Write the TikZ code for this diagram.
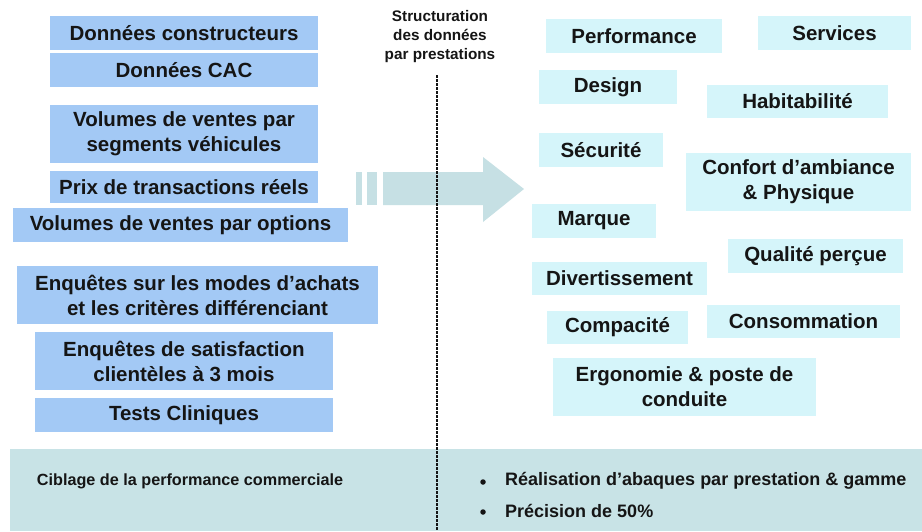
\documentclass[tikz,border=0pt]{standalone}
\usepackage{fontspec}
\setmainfont{Liberation Sans}
\definecolor{leftblue}{HTML}{A3C9F5}
\definecolor{rightcyan}{HTML}{D5F5FA}
\definecolor{arrowteal}{HTML}{C6E0E4}
\definecolor{bandteal}{HTML}{C8E3E6}
\definecolor{ink}{HTML}{151515}
\begin{document}
\begin{tikzpicture}[x=1pt,y=-1pt,
  boxbase/.style={inner sep=0pt, align=center, text=ink,
    font=\bfseries\fontsize{20.5}{25}\selectfont},
  lbox/.style={boxbase, fill=leftblue},
  rbox/.style={boxbase, fill=rightcyan},
  bigtext/.style={text=ink, font=\bfseries\fontsize{18}{22}\selectfont, anchor=west, inner sep=0pt},
  dot/.style={circle, fill=ink, inner sep=0pt, minimum size=5.5pt}
]
\useasboundingbox (0,0) rectangle (922,531);
\fill[white] (0,0) rectangle (922,531);
% bottom band
\fill[bandteal] (10,449) rectangle (922,531);
% left boxes
\node[lbox, minimum width=268, minimum height=34] (dc) at (184,33) {Données constructeurs};
\node[lbox, minimum width=268, minimum height=34] (cac) at (184,70) {Données CAC};
\node[lbox, minimum width=268, minimum height=58] (vs) at (184,134) {Volumes de ventes par\\segments véhicules};
\node[lbox, minimum width=268, minimum height=32] (prix) at (184,187) {Prix de transactions réels};
\node[lbox, minimum width=335, minimum height=34] (vo) at (180.5,225) {Volumes de ventes par options};
\node[lbox, minimum width=361, minimum height=58] (enq) at (197.5,295) {Enquêtes sur les modes d’achats\\et les critères différenciant};
\node[lbox, minimum width=298, minimum height=58] (sat) at (184,361) {Enquêtes de satisfaction\\clientèles à 3 mois};
\node[lbox, minimum width=298, minimum height=34] (tests) at (184,415) {Tests Cliniques};
% arrow
\fill[arrowteal] (356,172) rectangle (362,205);
\fill[arrowteal] (367,172) rectangle (377,205);
\fill[arrowteal] (383,172) -- (483,172) -- (483,157) -- (524,189) -- (483,222) -- (483,205) -- (383,205) -- cycle;
% dashed separator
\coordinate (dtop) at (437,75);
\coordinate (dbot) at (437,531);
\draw[ink, line width=1.1pt, dash pattern=on 2.5pt off 1.5pt] (dtop) -- (dbot);
\node[text=ink, align=center, font=\bfseries\fontsize{15.3}{19}\selectfont, inner sep=0pt] (struct) at (440,37) {Structuration\\des données\\par prestations};
% right boxes
\node[rbox, minimum width=176, minimum height=34] (perf) at (634,36) {Performance};
\node[rbox, minimum width=153, minimum height=34] (serv) at (834.5,33) {Services};
\node[rbox, minimum width=138, minimum height=34] (design) at (608,87) {Design};
\node[rbox, minimum width=181, minimum height=33] (hab) at (797.5,101.5) {Habitabilité};
\node[rbox, minimum width=124, minimum height=34] (secu) at (601,150) {Sécurité};
\node[rbox, minimum width=225, minimum height=58] (conf) at (798.5,182) {Confort d’ambiance\\\& Physique};
\node[rbox, minimum width=124, minimum height=34] (marque) at (594,221) {Marque};
\node[rbox, minimum width=175, minimum height=34] (qual) at (815.5,256) {Qualité perçue};
\node[rbox, minimum width=175, minimum height=33] (div) at (619.5,278.5) {Divertissement};
\node[rbox, minimum width=141, minimum height=33] (comp) at (617.5,327.5) {Compacité};
\node[rbox, minimum width=193, minimum height=33] (cons) at (803.5,321.5) {Consommation};
\node[rbox, minimum width=263, minimum height=58] (ergo) at (684.5,387) {Ergonomie \& poste de\\conduite};
% band texts
\node[text=ink, font=\bfseries\fontsize{16.2}{20}\selectfont, inner sep=0pt] (cib) at (190,481) {Ciblage de la performance commerciale};
\node[dot] (b1) at (483,482) {};
\node[dot] (b2) at (483,512) {};
\node[bigtext] (t1) at (505,481) {Réalisation d’abaques par prestation \& gamme};
\node[bigtext] (t2) at (505,511) {Précision de 50\%};
\end{tikzpicture}
\end{document}
